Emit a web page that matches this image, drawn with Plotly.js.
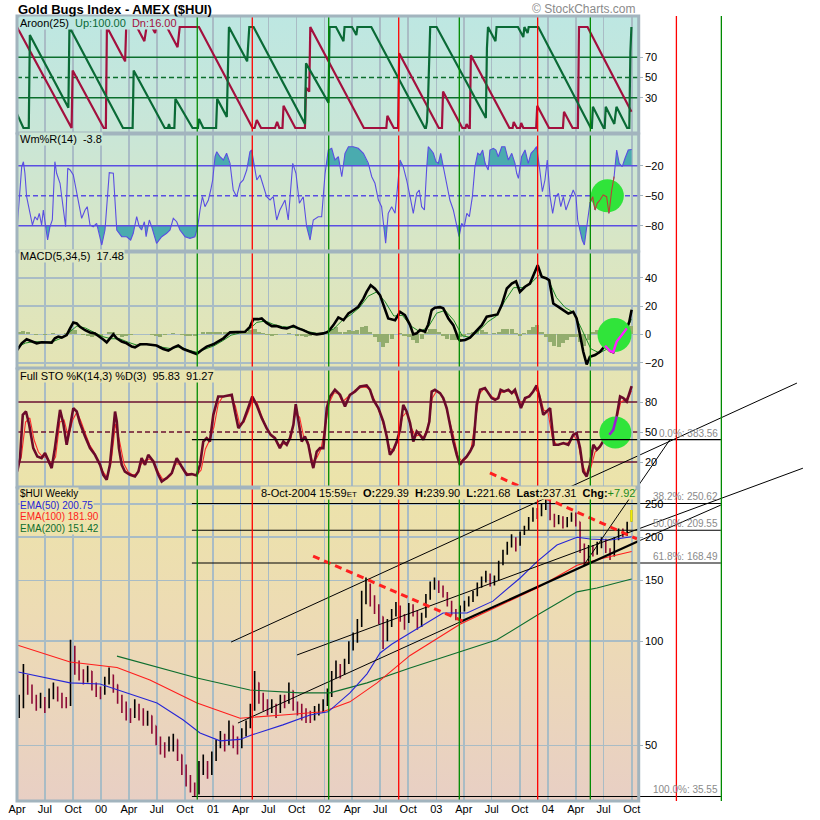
<!DOCTYPE html>
<html><head><meta charset="utf-8">
<script src="https://cdn.plot.ly/plotly-3.0.1.min.js"></script>
<style>html,body{margin:0;padding:0;background:#fff}#chart{width:820px;height:820px}</style>
</head><body><div id="chart"></div>
<script>
// ================= DATA =================
// Weekly index: week 0 = first week of April 1999. Price bars are bi-weekly (week = 2*i+1).
const priceOpen = [62,65,78,74,68,66,68,65,70,72, 70,67,66,95,86,80,78,82,75,72, 71,76,80,75,68,66,62,61,65,62,
 60,61,57,52,49,49,51,52,47,43, 40,38,37,43,44,42,46,50,53,51, 57,52,50,54,57,64,76,68,67,64,
 65,63,68,67,72,66,64,62,61,60, 63,64,66,70,80,84,81,87,97,100, 112,132,145,132,125,118,102,112,120,126,
 118,114,126,122,112,118,134,145,148,142, 138,130,122,118,124,128,132,137,145,150, 156,148,152,168,180,190,198,190,205,212,
 225,240,232,245,254,230,222,228,218,226, 232,222,190,170,186,180,190,196,184,178, 198,208,204,229.39];
const priceHigh = [70,86,80,75,70,71,69,73,76,74, 71,69,101,97,88,83,85,82,76,74, 79,84,80,75,70,67,64,68,66,64,
 63,61,57,53,51,53,54,52,47,44, 41,39,45,47,45,48,52,55,54,59, 57,53,56,59,66,82,76,71,68,68,
 66,70,70,76,72,67,66,64,63,65, 66,68,73,82,88,86,89,100,106,116, 140,153,147,136,128,118,116,124,130,127,
 120,129,128,123,121,137,149,153,150,145, 139,131,124,127,131,135,140,148,154,160, 157,155,171,184,194,204,200,208,216,229,
 244,243,250,259,256,234,232,230,229,236, 236,222,192,190,190,194,200,198,186,200, 212,212,222,239.90];
const priceLow = [60,64,70,66,63,64,62,64,68,67, 64,64,65,80,77,75,76,72,69,68, 70,75,71,66,62,59,58,60,59,57,
 57,54,50,47,46,48,48,45,41,38, 36.5,35.5,36,41,40,41,45,49,48,50, 49,47,49,53,56,63,66,63,61,62,
 60,62,64,66,63,61,59,58,58,59, 61,62,65,69,78,78,80,86,94,99, 110,128,126,120,112,95,100,110,118,114,
 108,113,118,108,110,117,132,141,138,134, 126,119,115,116,122,126,130,135,143,148, 144,145,150,166,178,187,182,189,203,210,
 222,226,230,240,224,214,218,212,214,222, 215,180,165,168,176,178,186,180,172,176, 196,200,202,221.68];
const priceClose = [65,78,74,68,66,68,65,70,72,70, 67,66,95,86,80,78,82,75,72,71, 76,80,75,68,66,62,61,65,62,60,
 61,57,52,49,49,51,52,47,43,40, 38,36.5,43,44,42,46,50,53,51,57, 52,50,54,57,64,76,68,67,64,65,
 63,68,67,72,66,64,62,61,60,63, 64,66,70,80,84,81,87,97,100,112, 132,145,132,125,118,102,112,120,126,118,
 114,126,122,112,118,134,145,148,142,138, 130,122,118,124,128,132,137,145,150,156, 148,152,168,180,190,198,190,205,212,225,
 240,232,245,254,230,222,228,218,226,232, 222,190,170,186,180,190,196,184,178,198, 208,204,218,237.31];

// EMAs [week, value]
const ema50 = [[0,81.6],[15.4,77.9],[24.8,75.8],[38.8,75.2],[51.4,70.9],[65.4,66.3],[77.5,59.3],[85.5,54.3],[94.8,51.5],[104.2,52],[110.2,53.7],[124.2,57.3],[136.9,61.2],[145.3,62.5],[155.5,70.9],[163.5,80.5],[169.6,92.5],[175,98],[183.6,105.7],[199,120.7],[210.2,120.7],[222.3,130.7],[235,152.5],[242.9,170],[252.2,190],[261.6,200],[267.7,197.8],[277,196.5],[287.1,200.75]];
const ema100 = [[0,97.6],[24.8,87.1],[46.7,84],[62.1,77.3],[84.1,66.3],[104.2,59.9],[124.2,61.2],[142.9,62.5],[155.5,66.8],[168.2,75.8],[183.6,91],[206.9,112],[242.9,142.7],[261.6,166],[273.7,174],[287.1,181.9]];
const ema200 = [[46.7,90.6],[62.1,85.4],[84.1,78.3],[108.8,72.3],[132.2,70.9],[146.2,70.9],[163.5,75.8],[183.6,83.7],[206.5,93],[224.2,101],[242.9,119],[261.6,139],[270.9,142.7],[287.1,151.42]];

// Aroon(25) [week, value]
const aroonUp = [[0,14],[3,0],[5.5,0],[6,92],[24,20],[24.5,100],[49.5,0],[54,0],[54.5,57],[69,0],[70.5,0],[71,4],[71.5,0],[73.5,0],[74,29],[82,0],[84.5,0],[85,9],[87,0],[93,0],[93.5,29],[98,11],[99,100],[107.5,66],[108.5,100],[110.5,100],[134.5,4],[135,64],[145.5,25],[146,100],[149,100],[152.5,86],[153,100],[156.5,100],[158.5,92],[159,100],[165.5,100],[190.5,0],[191,0],[191.5,6],[192,29],[193,100],[196,100],[219,10],[219.5,79],[220,100],[223.5,86],[224,100],[234,100],[236.5,90],[237,100],[238.5,94],[239,100],[243.5,100],[268,0],[268.5,0],[269,21],[274,0],[274.5,0],[275,21],[279,4],[280,21],[285,0],[286,0],[286.5,75],[287,100]];
const aroonDown = [[0,100],[25.5,0],[26,57],[40.5,0],[41.5,0],[42,100],[50.5,66],[51,100],[56,100],[59.5,86],[60.5,100],[63,100],[64.5,94],[65,100],[70,100],[75,80],[76,100],[85,100],[110,0],[111,0],[112,8],[114,0],[120.5,0],[121.5,6],[122.5,0],[124,0],[124.5,22],[130,0],[134.5,0],[135,40],[136.5,36],[137,100],[162,0],[172.5,0],[173,12],[176,0],[178,0],[178.5,74],[197,0],[198.5,0],[199,36],[208,0],[209.5,0],[210,4],[211,0],[211.5,0],[212,72],[230,0],[231.5,0],[232,6],[233.5,0],[235,0],[235.5,5],[236.5,0],[242.5,0],[243,22],[248.5,0],[255,0],[255.5,16],[259.5,0],[262,0],[262.5,100],[266.5,100],[287,16]];

// Williams %R(14) [week, value]
const willR = [[0.1,-81],[1.4,-41],[2.2,-21],[3,-16],[3.7,-27.6],[4.5,-51],[6.1,-67.6],[7.2,-79.3],[8.4,-71],[9.5,-74.3],[10.4,-67.6],[11.5,-79.3],[12.3,-64.3],[13.4,-79.3],[14.3,-94.3],[15.4,-81],[16.5,-74.3],[17.7,-16],[18.5,-27.6],[20.1,-37.6],[21.6,-61],[22.7,-81],[23.7,-22.6],[24.8,-24.3],[26.3,-29.3],[27.6,-42.6],[29,-57.6],[30.2,-72.6],[31.8,-64.3],[32.8,-61],[34.1,-79.3],[35.6,-81],[37.2,-77.6],[38.4,-87.6],[39.6,-99.3],[41.1,-84.3],[42.2,-51],[43.1,-27],[45,-27.6],[45.8,-51],[46.6,-84.3],[48.9,-91],[51.2,-91],[53.1,-94.3],[54.3,-87.6],[55.9,-71],[57.1,-81],[58.2,-84.3],[59.5,-76],[60.3,-91],[61.8,-74.3],[62.9,-81],[65.2,-97.6],[67.6,-91],[69.9,-87.6],[71.5,-84.3],[73,-72.6],[74.6,-76],[76.1,-84.3],[78.5,-91],[80.8,-92.6],[83.1,-91],[84.4,-81],[85.5,-64.3],[86.6,-51],[87.8,-61],[89.4,-54.3],[90.5,-44.3],[91.4,-34.3],[92.5,-11],[93.3,-6],[94.8,-11],[96.4,-14.3],[97.9,-7.6],[99.5,-17.6],[101,-44.3],[102.6,-51],[104.2,-37.6],[105.7,-34.3],[107.3,-24.3],[108.8,-6],[109.6,-4.3],[110.7,-17.6],[112,-34.3],[113.5,-29.3],[115,-41],[116.6,-51],[118.2,-54.3],[119.7,-51],[121.3,-74.3],[122.8,-64.3],[125.2,-54.3],[126.7,-74.3],[128.8,-17.6],[130.3,-27.6],[131.9,-57.6],[133.7,-51],[135.3,-81],[136.9,-94.3],[138.4,-74.3],[140.7,-71],[142.3,-71],[143.9,-27.6],[145.4,-4.3],[147,-2.6],[148.5,-14.3],[150.1,-11],[151.7,-31],[153.2,-7.6],[154.8,-1],[157.1,-1],[159.4,-2.6],[161.8,-7.6],[164.1,-17.6],[165.7,-31],[167.2,-37.6],[168.8,-54.3],[170.3,-61],[171.1,-77.6],[172.2,-97.6],[173.4,-67.6],[175,-61],[176.6,-67.6],[177.6,-41],[178.9,-14.3],[180.4,-21],[182,-34.3],[183.6,-51],[185.1,-67.6],[186.7,-47.6],[187.9,-44.3],[189,-61],[190.3,-64.3],[191.4,-21],[192.1,-1],[193.4,-4.3],[194.5,-7.6],[195.7,-16],[196.8,-17.6],[197.9,-7.6],[199.1,-21],[200.7,-41],[202.2,-54.3],[203.8,-64.3],[205.4,-81],[206.5,-91],[207.7,-77.6],[208.9,-81],[210.1,-67.6],[211.3,-71],[212.7,-51],[213.9,-21],[215.2,-7.6],[216.3,-9.3],[217.5,-4.3],[218.6,-17.6],[220.1,-24.3],[220.9,-4.3],[222.5,-2.6],[223.7,-4.3],[224.8,-11],[226.4,-1],[227.9,-1],[229.5,-14.3],[231.1,-7.6],[232.6,-17.6],[233.4,-27.6],[234.2,-32.6],[235.7,-11],[237.3,-4.3],[238.8,-17.6],[240.1,-7.6],[241.5,-4.3],[242.7,-1],[244,-21],[245.4,-46],[246.6,-34.3],[247.7,-14.3],[249,-51],[250.2,-67.6],[251.6,-51],[252.9,-47.6],[254,-61],[255.2,-51],[256.4,-64.3],[258,-54.3],[259.8,-44.3],[261.1,-51],[261.9,-74.3],[262.9,-84.3],[264,-94.3],[265,-99.3],[266.1,-81],[267.6,-57.6],[268.9,-51],[270,-64.3],[271,-57.6],[272.3,-54.3],[273.8,-49.3],[275.4,-51],[276.5,-67.6],[277.8,-44.3],[278.9,-31],[280.1,-4.3],[281.3,-17.6],[282.7,-21],[284,-12.6],[285.5,-4.3],[287.1,-3.8]];

// MACD(5,34,5) line, signal [week, value]; histogram on bi-weekly grid
const macdLine = [[0.1,-10.9],[2.2,-6.2],[4.5,-3.4],[6.9,-5],[9.2,-6.2],[11.5,-5.5],[13.9,-5.7],[16.2,-5.7],[17.7,-2.7],[19.3,-1.5],[20.9,-2.2],[23.2,-0.4],[24.8,4.3],[26.3,8.5],[27.9,7.8],[29.4,5.4],[31.8,3],[34.1,1.4],[36.4,0.7],[38.8,-1.6],[40.3,-3.5],[41.9,-5.5],[43.4,-2.7],[45,0.1],[46.6,-2.7],[48.9,-5],[51.2,-6.2],[53.6,-8.5],[55.1,-9],[57.5,-6.9],[60.6,-6.9],[62.9,-7.4],[65.2,-7.8],[68.3,-10.2],[70.7,-11.3],[73,-9.2],[75.3,-7.8],[77.7,-10.2],[80.8,-12],[83.9,-13.7],[86.3,-10.9],[88.6,-8.5],[91.7,-6.9],[94,-5],[96.4,-2.7],[99.5,1.5],[102.6,1.5],[106.5,1.9],[108.8,5.4],[110.4,10.8],[112.7,10.8],[114.3,11.3],[116.6,8.2],[119,5.9],[121.3,5.9],[123.6,4.7],[126,4.3],[129.1,6.1],[131.4,4.3],[133.7,3.1],[136.9,0.8],[140,0.1],[143.1,0.8],[145.4,2],[147.8,6.6],[150.1,12],[152.5,10.1],[154.8,14.8],[157.1,17.1],[159.4,19.5],[161.8,25.3],[163.3,30],[165.2,34.7],[167.2,32.3],[169.6,27.6],[171.9,17.1],[173.4,11.3],[176.6,10.1],[178.9,16],[181.2,13.6],[183.6,6.6],[185.1,0.1],[186.7,0.8],[188.2,3.1],[190.6,2],[192.1,7.1],[193.7,17.2],[195.2,18.8],[197.6,19.3],[199.1,18.4],[201.5,11.3],[203.8,6.6],[206.1,-2.7],[206.9,-4.3],[209.3,-3.9],[211.6,-2.2],[214.7,3.2],[217.1,6.6],[219.4,12.5],[222.5,13.2],[224.4,14.1],[226.4,20.7],[228.8,32.4],[231.1,35.9],[233.1,37.5],[234.9,30],[237.3,33.6],[239.6,35.9],[241.5,42.2],[243.2,48.8],[245.1,40.6],[247.4,39.4],[248.6,38.2],[250.5,21.8],[252.9,19.5],[255.2,17.2],[257.5,14.8],[259.8,16],[261.4,11.3],[263,-0.4],[264.5,-12.2],[266.1,-21.1],[267.6,-15.7],[270,-14.5],[272.3,-12.2],[274.7,-7.9],[277,-11.6],[278.5,-12.5],[280.1,-5],[282.5,-0.4],[284.8,4.3],[286,9],[287.1,17.48]];
const macdSignal = [[0,-9],[4,-6],[8,-5],[12,-5.5],[16,-5.5],[20,-3],[24,1],[28,6],[32,4.5],[36,1.5],[40,-1.5],[44,-3],[48,-3],[52,-5.5],[56,-7.5],[60,-7],[64,-7.5],[68,-9],[72,-10],[76,-8.5],[80,-11],[84,-12.5],[88,-10],[92,-8],[96,-4.5],[100,-0.5],[104,1],[108,3],[112,8.5],[116,9.5],[120,7],[124,5.5],[128,5],[132,4.5],[136,2],[140,0.8],[144,0.8],[148,4],[152,10],[156,14],[160,19],[164,27],[168,30],[172,23],[176,13],[180,13.5],[184,6],[188,2],[192,5],[196,15],[200,17],[204,10],[208,-1],[212,-2],[216,3],[220,9],[224,13],[228,24],[232,33],[236,33],[240,36],[244,42],[248,39],[252,26],[256,19],[260,15.5],[264,3],[268,-10],[272,-13],[276,-10],[280,-9],[284,0],[287,11]];
const macdHist = [2,2.5,1.5,0,-0.5,0.5,-0.5,0.5,1,0.5, 0.5,1,4,3,0.5,-0.5,-1,-1.5,-1,-1.5, 0.5,1.5,2,-0.5,-1.5,-1,-0.5,0.5,0.5,0,
 0.5,-0.5,-1,-1.5,-0.5,0.5,1,0.5,-0.5,-1, -1,-1,0.5,1.5,1.5,1.5,2,2,1.5,1.5, 1,0.5,1,1.5,3,4,2,1,-0.5,-1,
 -0.5,0.5,0.5,1,0,-1,-1,-1.5,-1,-0.5, 0.5,1,2,4,5,2,2,3,2.5,3, 5,6,2,-2,-5,-9,-6,-3,0,1,
 -1,-2,-4,-6,-3,2,4,4,2,-1, -3,-4,-4,-2,-1,1,2,3,3,2, 0,1,2,4,4,4,1,-1,1,3,
 5,7,2,-2,-5,-8,-9,-6,-4,-2, -2,-5,-8,-4,2,3,1,-1,2,4, 5,4,5,6];

// Full Stochastics %K(14,3), %D(3) [week, value]
const stoK = [[0.1,10.5],[1.4,23.9],[2.7,67.2],[4.2,70.5],[5.7,57.2],[7.6,33.9],[9.5,25.5],[11.5,23.9],[13.1,28.9],[14.6,22.2],[16.2,13.9],[17.7,33.9],[20.1,72.2],[21.6,58.9],[23.2,37.2],[24.8,55.5],[26.3,73.9],[27.9,70.5],[29.4,58.9],[31.8,45.5],[34.1,33.9],[36.4,27.2],[38.8,17.2],[40.3,7.2],[41.9,2.2],[43.4,17.2],[45,50.5],[45.8,70.5],[46.6,60.5],[47.6,33.9],[48.9,17.2],[50.4,10.5],[52.8,7.2],[55.1,5.5],[56.7,10.5],[58.2,23.9],[59.8,17.2],[61.3,27.2],[63.7,20.5],[66,7.2],[67.6,0.5],[69.9,3.9],[72.3,8.9],[74.6,23.9],[76.9,15.5],[79.3,7.2],[81.6,7.9],[83.9,6.5],[85.5,17.2],[87,40.5],[88.6,43.9],[90.1,40.5],[91.7,67.2],[94,85.5],[96.4,85.5],[98.7,86.5],[100.3,87.2],[101.8,70.5],[103.4,53.9],[105.7,60.5],[108,73.9],[109.9,85.5],[111.9,77.2],[114.3,63.9],[116.6,53.9],[118.5,47.2],[120.5,43.9],[122.8,33.9],[124.4,40.5],[126,37.2],[127.5,43.9],[129.1,57.2],[130.2,77.9],[131.4,60.5],[133,40.5],[134.5,45.5],[136.1,37.2],[137.6,20.5],[138.4,13.9],[140,30.5],[141.5,33.9],[143.1,33.9],[144.7,73.9],[146.2,85.5],[148.5,92.2],[150.9,87.2],[153.2,75.5],[155.5,87.2],[157.9,90.5],[160.2,95.5],[163.3,96.5],[164.9,92.2],[166.4,82.2],[168.8,73.9],[171.1,60.5],[172.7,45.5],[174.2,27.2],[175.8,32.2],[177.4,40.5],[178.9,52.2],[180.4,77.2],[182,70.5],[183.6,58.9],[185.1,40.5],[186.7,50.5],[188.2,47.2],[189.8,42.2],[191.4,50.5],[192.6,60.5],[193.7,90.5],[195.2,92.2],[197.6,88.9],[199.1,83.9],[200.7,73.9],[202.2,57.2],[203.8,40.5],[205.4,27.2],[206.9,17.2],[208.5,22.2],[210.1,25.5],[211.6,30.5],[213.2,37.2],[214.7,77.2],[216.3,92.2],[218.6,93.9],[220.1,88.9],[221.7,83.9],[223.3,82.2],[224.8,83.9],[225.9,92.2],[227.5,90.5],[229.5,92.2],[231.1,88.9],[232.6,92.2],[234.2,80.5],[235.4,73.9],[237.3,83.9],[239.3,85.5],[241.1,90.5],[242.7,96.5],[244.2,83.9],[245.8,67.2],[247.4,70.5],[249,73.9],[250.8,37.2],[252.9,37.2],[255.2,38.9],[257.5,37.2],[259.8,47.2],[261.4,48.9],[263,33.9],[264.5,10.5],[266.1,5.5],[267.6,17.2],[269.2,37.2],[270.8,32.2],[272.3,35.5],[274.7,43.9],[276.7,47.2],[278.5,52.2],[280.1,65.5],[281.7,85.5],[283.2,83.9],[284.8,80.5],[287.1,95.83]];
const stoD = [[0,12],[2,25],[4,60],[6,64],[8,42],[10,30],[12,25],[14,25],[16,18],[18,25],[20,60],[22,62],[24,45],[26,62],[28,70],[30,60],[32,48],[34,37],[36,30],[38,21],[40,11],[42,5],[44,20],[46,58],[48,40],[50,18],[52,10],[54,7],[56,8],[58,18],[60,22],[62,23],[64,20],[66,10],[68,3],[70,3],[72,7],[74,18],[76,18],[78,11],[80,8],[82,8],[84,7],[86,12],[88,33],[90,42],[92,55],[94,78],[96,85],[98,86],[100,86],[102,76],[104,58],[106,60],[108,70],[110,82],[112,80],[114,68],[116,57],[118,49],[120,45],[122,37],[124,38],[126,38],[128,44],[130,68],[132,65],[134,44],[136,40],[138,20],[140,24],[142,33],[144,55],[146,80],[148,89],[150,89],[152,80],[154,84],[156,89],[158,92],[160,94],[162,95],[164,94],[166,87],[168,77],[170,66],[172,51],[174,34],[176,31],[178,42],[180,65],[182,70],[184,55],[186,46],[188,47],[190,45],[192,55],[194,84],[196,91],[198,88],[200,78],[202,62],[204,45],[206,26],[208,20],[210,24],[212,32],[214,60],[216,88],[218,93],[220,90],[222,85],[224,83],[226,89],[228,91],[230,91],[232,90],[234,84],[236,77],[238,84],[240,88],[242,93],[244,88],[246,72],[248,70],[250,45],[252,37],[254,38],[256,38],[258,40],[260,47],[262,40],[264,18],[266,7],[268,14],[270,30],[272,34],[274,41],[276,46],[278,50],[280,62],[282,80],[284,82],[286,86],[287,91.27]];

// Drawn annotations (price coordinates): Fibonacci levels, trend lines, cycle lines
const fibLevels = [383.56, 250.62, 209.55, 168.49, 35.55];
const fibNames = ['0.0%', '38.2%', '50.0%', '61.8%', '100.0%'];
const fibWeeks = [81.7, 328.8];
const trendWeeks = [[100.0, 364.3], [130.8, 367.1], [103.2, 206.9], [206.9, 290.4], [290.4, 328.8], [264.4, 305]];
const trendPrices = [[99.5, 559], [91.3, 317], [58.0, 113.7], [113.7, 195.1], [195.1, 248], [165, 383.56]];
const dashWeeks = [[138.3, 210.2], [220.9, 289.6]];
const dashPrices = [[176.5, 113], [307, 197.8]];
const redCycleWeeks = [109.9, 178.3, 243.2, 308.0];
const greenCycleWeeks = [84.2, 145.6, 206.6, 267.8, 329.0];

// Tick labels
const quarterMonths = [0, 3, 6, 9];
const quarterNames = ['Jan', 'Apr', 'Jul', 'Oct'];
const tickYears = [1999, 2000, 2001, 2002, 2003, 2004];

// ================= LAYOUT HELPERS =================
const PXW = 2.1409;               // pixels per week
const PW = 803, PH = 785;         // paper size (margins l=17, t=16, b=19, r=0)
const X_END = 290.4;              // last visible week of the chart panels
const DOMX = X_END * PXW / PW;
const OV_END = PW / PXW;
const py = y => (801 - y) / PH;
const pxp = x => (x - 17) / PW;
const FONT = 'Liberation Sans, Arial, sans-serif';

const BASE = Date.UTC(1999, 3, 1);
const tickvals = [], ticktext = [];
tickYears.forEach(yr => quarterMonths.forEach((m, k) => {
  const w = (Date.UTC(yr, m, 1) - BASE) / (7 * 864e5);
  if (w < -0.5 || w > X_END) return;
  tickvals.push(w);
  ticktext.push(m === 0 ? String(yr).slice(2) : quarterNames[k]);
}));

const col = (arr, j) => arr.map(p => p[j]);
const barWeeks = priceClose.map((_, i) => 2 * i + 1);

function band(xs, ys, thr, dir) {
  const X = [], Y = [];
  for (let i = 0; i < xs.length; i++) {
    if (i > 0) {
      const a = ys[i - 1] - thr, b = ys[i] - thr;
      if (a * b < 0) { const t = a / (a - b); X.push(xs[i - 1] + t * (xs[i] - xs[i - 1])); Y.push(thr); }
    }
    X.push(xs[i]); Y.push(dir > 0 ? Math.max(ys[i], thr) : Math.min(ys[i], thr));
  }
  X.push(xs[xs.length - 1], xs[0]); Y.push(thr, thr);
  return { X, Y };
}
function seg(arr, a, b) {
  const f = arr.filter(p => p[0] >= a && p[0] <= b);
  return { X: col(f, 0), Y: col(f, 1) };
}
function level(yax, v, color, dash, w) {
  return { type: 'scatter', mode: 'lines', xaxis: 'x', yaxis: yax, x: [0, X_END], y: [v, v],
    line: { color, width: w || 1.4, dash: dash || 'solid' }, hoverinfo: 'skip', showlegend: false };
}
function line(yax, arr, color, w, xa) {
  return { type: 'scatter', mode: 'lines', xaxis: xa || 'x', yaxis: yax, x: col(arr, 0), y: col(arr, 1),
    line: { color, width: w }, hoverinfo: 'skip', showlegend: false };
}

// ================= TRACES =================
const traces = [];
// Aroon
traces.push(level('y', 70, '#0b6e2c'), level('y', 30, '#0b6e2c'), level('y', 50, '#0b6e2c', '5px,3px'));
traces.push(line('y', aroonDown, '#a3103e', 2.2), line('y', aroonUp, '#0a6a36', 2.2));
// Williams %R
const wx = col(willR, 0), wy = col(willR, 1);
const bUp = band(wx, wy, -20, 1), bDn = band(wx, wy, -80, -1);
traces.push({ type: 'scatter', mode: 'lines', xaxis: 'x', yaxis: 'y2', x: bUp.X, y: bUp.Y, fill: 'toself', fillcolor: '#4aabaf', line: { width: 0 }, hoverinfo: 'skip' });
traces.push({ type: 'scatter', mode: 'lines', xaxis: 'x', yaxis: 'y2', x: bDn.X, y: bDn.Y, fill: 'toself', fillcolor: '#4aabaf', line: { width: 0 }, hoverinfo: 'skip' });
traces.push(level('y2', -20, '#5a4ee2'), level('y2', -80, '#5a4ee2'), level('y2', -50, '#5a4ee2', '5px,3px'));
traces.push(line('y2', willR, '#5a4ee2', 1.1));
traces.push({ type: 'scatter', mode: 'markers', xaxis: 'x', yaxis: 'y2', x: [275.75], y: [-50.1], marker: { size: 33, color: '#30e43a' }, hoverinfo: 'skip' });
const wSeg = seg(willR, 267.6, 278.9);
traces.push({ type: 'scatter', mode: 'lines', xaxis: 'x', yaxis: 'y2', x: wSeg.X, y: wSeg.Y, line: { color: '#b8403a', width: 1.1 }, hoverinfo: 'skip' });
// MACD
traces.push({ type: 'bar', xaxis: 'x', yaxis: 'y3', x: barWeeks, y: macdHist, width: 1.9, marker: { color: '#93ad6e', line: { width: 0 } }, hoverinfo: 'skip' });
traces.push(line('y3', macdSignal, '#1d8a24', 1));
traces.push(line('y3', macdLine, '#000000', 2.6));
traces.push({ type: 'scatter', mode: 'markers', xaxis: 'x', yaxis: 'y3', x: [279.1], y: [-0.4], marker: { size: 34, color: '#30e43a' }, hoverinfo: 'skip' });
const mSeg = seg(macdLine, 274, 285.6);
traces.push({ type: 'scatter', mode: 'lines', xaxis: 'x', yaxis: 'y3', x: mSeg.X, y: mSeg.Y, line: { color: '#ff20ff', width: 2.4 }, hoverinfo: 'skip' });
// Stochastics
traces.push(level('y4', 80, '#6a1030'), level('y4', 20, '#6a1030'), level('y4', 50, '#6a1030', '5px,3px'));
traces.push(line('y4', stoD, '#ff2a2a', 1.1));
traces.push(line('y4', stoK, '#6a0a2a', 2.6));
traces.push({ type: 'scatter', mode: 'markers', xaxis: 'x', yaxis: 'y4', x: [279.5], y: [49.5], marker: { size: 32, color: '#30e43a' }, hoverinfo: 'skip' });
const sSeg = seg(stoK, 276, 281);
traces.push({ type: 'scatter', mode: 'lines', xaxis: 'x', yaxis: 'y4', x: sSeg.X, y: sSeg.Y, line: { color: '#9a1ed2', width: 2.6 }, hoverinfo: 'skip' });
// Price panel
traces.push(line('y5', ema200, '#0e6e2e', 1.1), line('y5', ema100, '#ff1c1c', 1.1), line('y5', ema50, '#2626d6', 1.1));
traces.push({ type: 'ohlc', xaxis: 'x', yaxis: 'y5', x: barWeeks, open: priceOpen, high: priceHigh, low: priceLow, close: priceClose,
  increasing: { line: { color: '#000000', width: 1.6 } }, decreasing: { line: { color: '#8c0a36', width: 1.6 } }, tickwidth: 0.3, hoverinfo: 'skip', showlegend: false });
const L = priceClose.length - 1;
traces.push({ type: 'ohlc', xaxis: 'x', yaxis: 'y5', x: [barWeeks[L]], open: [priceOpen[L]], high: [priceHigh[L]], low: [priceLow[L]], close: [priceClose[L]],
  increasing: { line: { color: '#f2ee00', width: 2.2 } }, decreasing: { line: { color: '#f2ee00', width: 2.2 } }, tickwidth: 0.3, hoverinfo: 'skip', showlegend: false });
// Overlay drawings (full width)
fibLevels.forEach(v => traces.push({ type: 'scatter', mode: 'lines', xaxis: 'x6', yaxis: 'y6', x: fibWeeks, y: [v, v], line: { color: '#000', width: 1.1 }, hoverinfo: 'skip' }));
trendWeeks.forEach((w, k) => traces.push({ type: 'scatter', mode: 'lines', xaxis: 'x6', yaxis: 'y6', x: w, y: trendPrices[k], line: { color: '#000', width: k === 3 ? 2.2 : 1 }, hoverinfo: 'skip' }));
dashWeeks.forEach((w, k) => traces.push({ type: 'scatter', mode: 'lines', xaxis: 'x6', yaxis: 'y6', x: w, y: dashPrices[k], line: { color: '#ff2020', width: 3, dash: '7px,5px' }, hoverinfo: 'skip' }));

// ================= LAYOUT =================
const GRID = '#a9bcc5';
const yBase = { side: 'right', anchor: 'x', showgrid: false, zeroline: false, showline: false, ticks: 'outside', ticklen: 3, tickcolor: '#a2b4be',
  tickfont: { family: FONT, size: 11, color: '#000' }, fixedrange: true };
const layout = {
  width: 820, height: 820, margin: { l: 17, r: 0, t: 16, b: 19 }, paper_bgcolor: '#ffffff', plot_bgcolor: 'rgba(0,0,0,0)',
  showlegend: false, bargap: 0,
  xaxis: { domain: [0, DOMX], range: [0, X_END], anchor: 'y5', tickmode: 'array', tickvals, ticktext, showgrid: true, gridcolor: GRID, gridwidth: 1.6,
    zeroline: false, showline: false, ticks: '', tickfont: { family: FONT, size: 11, color: '#000' }, rangeslider: { visible: false } },
  yaxis: Object.assign({}, yBase, { domain: [py(133), 1], range: [-4.95, 110.9], tickvals: [30, 50, 70] }),
  yaxis2: Object.assign({}, yBase, { domain: [py(251), py(134)], range: [-105.3, 11.7], tickvals: [-80, -50, -20] }),
  yaxis3: Object.assign({}, yBase, { domain: [py(368), py(252)], range: [-23.6, 58.1], tickvals: [-20, 0, 20, 40], showgrid: true, gridcolor: GRID, gridwidth: 1.6 }),
  yaxis4: Object.assign({}, yBase, { domain: [py(487), py(369)], range: [-5, 113], tickvals: [20, 50, 80] }),
  yaxis5: Object.assign({}, yBase, { domain: [0, py(488)], type: 'log', range: [1.53777, 2.4437], tickvals: [50, 100, 150, 200, 250], ticktext: ['50', '100', '150', '200', '250'],
    showgrid: true, gridcolor: GRID, gridwidth: 1.6 }),
  xaxis6: { domain: [0, 1], range: [0, OV_END], anchor: 'y6', visible: false, fixedrange: true },
  yaxis6: { domain: [0, 1], range: [1.53777, 3.80984], type: 'log', anchor: 'x6', visible: false, fixedrange: true },
  shapes: [], annotations: [], images: []
};

// background gradient
const stops = [[16, '#bde7e2'], [133, '#c9e6d7'], [251, '#d9e6c4'], [368, '#e5e4b4'], [487, '#ece3aa'], [620, '#eddbb4'], [801, '#e8cfc4']];
const svg = "<svg xmlns='http://www.w3.org/2000/svg' width='100' height='785' viewBox='0 0 100 785' preserveAspectRatio='none'><defs><linearGradient id='g' x1='0' y1='0' x2='0' y2='1'>" +
  stops.map(s => "<stop offset='" + ((s[0] - 16) / 785).toFixed(4) + "' stop-color='" + s[1] + "'/>").join('') +
  "</linearGradient></defs><rect width='100' height='785' fill='url(#g)'/></svg>";
layout.images.push({ source: 'data:image/svg+xml;charset=utf-8,' + encodeURIComponent(svg), xref: 'paper', yref: 'paper', x: 0, y: 1, sizex: DOMX, sizey: 1,
  xanchor: 'left', yanchor: 'top', sizing: 'stretch', layer: 'below' });

// cycle lines
redCycleWeeks.forEach(w => layout.shapes.push({ type: 'line', xref: 'x6', yref: 'paper', x0: w, x1: w, y0: 0, y1: 1, line: { color: '#ff0000', width: 1.3 }, layer: 'above' }));
greenCycleWeeks.forEach(w => layout.shapes.push({ type: 'line', xref: 'x6', yref: 'paper', x0: w, x1: w, y0: 0, y1: 1, line: { color: '#008a00', width: 1.3 }, layer: 'above' }));
// panel frames
[[16, 133], [134, 251], [252, 368], [369, 487], [488, 801]].forEach(p => layout.shapes.push({ type: 'rect', xref: 'paper', yref: 'paper', x0: 0, x1: DOMX, y0: py(p[1]), y1: py(p[0]),
  line: { color: '#a2b4be', width: 3 }, fillcolor: 'rgba(0,0,0,0)', layer: 'above' }));

// text
function note(text, x, y, opts) {
  layout.annotations.push(Object.assign({ text, xref: 'paper', yref: 'paper', x: pxp(x), y: py(y), xanchor: 'left', yanchor: 'middle', showarrow: false,
    font: { family: FONT, size: 11, color: '#000' }, borderpad: 0 }, opts || {}));
}
const small = c => ({ family: FONT, size: 10, color: c });
note('<b>Gold Bugs Index - AMEX ($HUI)</b>', 16.5, 9, { font: { family: FONT, size: 13, color: '#000' } });
note('© StockCharts.com', 637, 9, { xanchor: 'right', font: { family: FONT, size: 12, color: '#8a8a8a' } });
note("Aroon(25)  <span style='color:#0a6a36'>Up:100.00</span>  <span style='color:#a3103e'>Dn:16.00</span>", 18.5, 23, { bgcolor: '#bee7e1' });
note('Wm%R(14)  -3.8', 18.5, 139.5, { bgcolor: '#cbe6d4' });
note('MACD(5,34,5)  17.48', 18.5, 256, { bgcolor: '#dbe6c2' });
note('Full STO %K(14,3) %D(3)  95.83  91.27', 18.5, 375.5, { bgcolor: '#e8e4b0' });
note('$HUI Weekly', 18.5, 493.5, { bgcolor: '#ede3aa', font: small('#000') });
note('EMA(50) 200.75', 18.5, 505, { bgcolor: '#ede3aa', font: small('#2626d6') });
note('EMA(100) 181.90', 18.5, 516.5, { bgcolor: '#ede3ab', font: small('#ff1c1c') });
note('EMA(200) 151.42', 18.5, 528, { bgcolor: '#ede2ab', font: small('#0e6e2e') });
note("8-Oct-2004 15:59<span style='font-size:8px'>ET</span>  <b>O:</b>229.39  <b>H:</b>239.90  <b>L:</b>221.68  <b>Last:</b>237.31  <b>Chg:</b><span style='color:#1a8a1a'>+7.92</span>",
  636, 493.3, { xanchor: 'right', bgcolor: '#ede3aa' });
fibLevels.forEach((v, k) => layout.annotations.push({ text: fibNames[k] + ': ' + v.toFixed(2), xref: 'x6', yref: 'y6', x: 327.7, y: Math.log10(v), xanchor: 'right', yanchor: 'bottom',
  yshift: 0, showarrow: false, borderpad: 0, font: { family: FONT, size: 10, color: '#8a8a8a' } }));

Plotly.newPlot('chart', traces, layout, { staticPlot: true, displayModeBar: false });
</script>
</body></html>
